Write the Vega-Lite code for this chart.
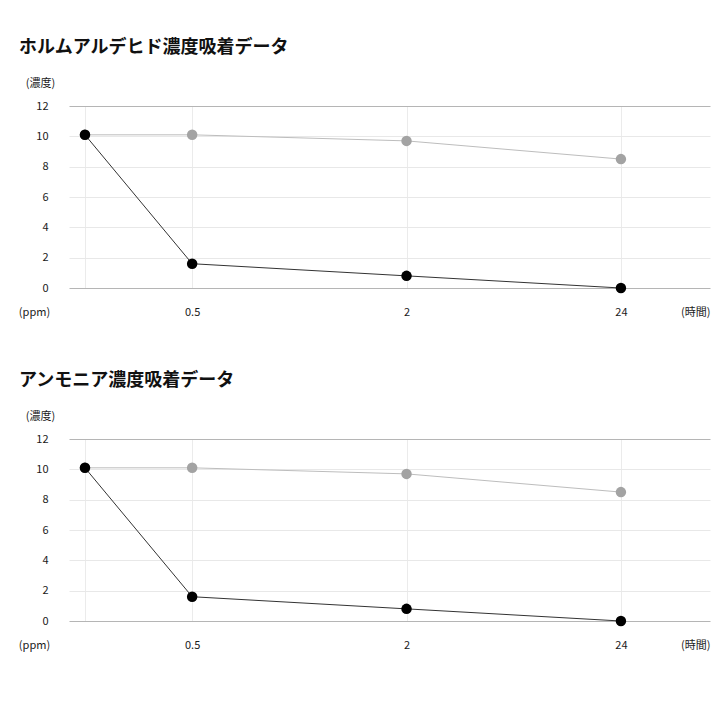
{
  "$schema": "https://vega.github.io/schema/vega-lite/v6.json",
  "padding": {"left": 18, "top": 39, "right": 5, "bottom": 5},
  "background": "white",
  "config": {
    "font": "Noto Sans CJK JP",
    "view": {"stroke": null},
    "title": {"fontSize": 18, "fontWeight": "bold", "color": "#111111", "anchor": "start", "frame": "group", "dx": -50, "offset": 20},
    "axis": {"labelFontSize": 11, "labelColor": "#1a1a1a", "titleFontSize": 11, "titleFontWeight": "normal", "titleColor": "#1a1a1a", "ticks": false, "domain": false}
  },
  "datasets": {
    "formaldehyde": [
      {"hour": "0", "series": "対照", "ppm": 10.1},
      {"hour": "0.5", "series": "対照", "ppm": 10.1},
      {"hour": "2", "series": "対照", "ppm": 9.7},
      {"hour": "24", "series": "対照", "ppm": 8.5},
      {"hour": "0", "series": "吸着", "ppm": 10.1},
      {"hour": "0.5", "series": "吸着", "ppm": 1.6},
      {"hour": "2", "series": "吸着", "ppm": 0.8},
      {"hour": "24", "series": "吸着", "ppm": 0}
    ],
    "ammonia": [
      {"hour": "0", "series": "対照", "ppm": 10.1},
      {"hour": "0.5", "series": "対照", "ppm": 10.1},
      {"hour": "2", "series": "対照", "ppm": 9.7},
      {"hour": "24", "series": "対照", "ppm": 8.5},
      {"hour": "0", "series": "吸着", "ppm": 10.1},
      {"hour": "0.5", "series": "吸着", "ppm": 1.6},
      {"hour": "2", "series": "吸着", "ppm": 0.8},
      {"hour": "24", "series": "吸着", "ppm": 0}
    ]
  },
  "spacing": 55,
  "vconcat": [
    {
      "title": "ホルムアルデヒド濃度吸着データ",
      "width": 641,
      "height": 182,
      "data": {"name": "formaldehyde"},
      "encoding": {
        "x": {"field": "hour", "type": "ordinal", "sort": null,
          "scale": {"type": "point", "domain": ["0", "0.5", "1", "2", "12", "24"], "padding": 0.49, "align": 0.152},
          "axis": {"values": ["0", "0.5", "2", "24"], "labelAngle": 0, "labelPadding": 18, "grid": true, "gridColor": "#ebebeb",
            "labelExpr": "datum.value === '0' ? '(ppm)' : datum.label",
            "labelOffset": {"condition": {"test": "datum.value === '0'", "value": -51}, "value": 0},
            "title": "(時間)", "titleX": 641, "titleY": 18, "titleAlign": "right", "titleBaseline": "top"}},
        "y": {"field": "ppm", "type": "quantitative",
          "scale": {"domain": [0, 12], "nice": false},
          "axis": {"values": [0, 2, 4, 6, 8, 10, 12], "labelPadding": 21,
            "gridColor": {"condition": {"test": "datum.value === 0 || datum.value === 12", "value": "#b5b5b5"}, "value": "#e8e8e8"},
            "title": "(濃度)", "titleAngle": 0, "titleX": -29, "titleY": -23, "titleAlign": "center", "titleBaseline": "middle"}}
      },
      "layer": [
        {"mark": {"type": "line", "strokeWidth": 1},
          "encoding": {"stroke": {"field": "series", "type": "nominal", "scale": {"domain": ["対照", "吸着"], "range": ["#bdbdbd", "#333333"]}, "legend": null}}},
        {"mark": {"type": "point", "filled": true, "opacity": 1, "size": 110},
          "encoding": {"fill": {"field": "series", "type": "nominal", "scale": {"domain": ["対照", "吸着"], "range": ["#a3a3a3", "#000000"]}, "legend": null},
            "order": {"field": "series", "sort": "descending"}}}
      ],
      "resolve": {"scale": {"fill": "independent", "stroke": "independent"}}
    },
    {
      "title": "アンモニア濃度吸着データ",
      "width": 641,
      "height": 182,
      "data": {"name": "ammonia"},
      "encoding": {
        "x": {"field": "hour", "type": "ordinal", "sort": null,
          "scale": {"type": "point", "domain": ["0", "0.5", "1", "2", "12", "24"], "padding": 0.49, "align": 0.152},
          "axis": {"values": ["0", "0.5", "2", "24"], "labelAngle": 0, "labelPadding": 18, "grid": true, "gridColor": "#ebebeb",
            "labelExpr": "datum.value === '0' ? '(ppm)' : datum.label",
            "labelOffset": {"condition": {"test": "datum.value === '0'", "value": -51}, "value": 0},
            "title": "(時間)", "titleX": 641, "titleY": 18, "titleAlign": "right", "titleBaseline": "top"}},
        "y": {"field": "ppm", "type": "quantitative",
          "scale": {"domain": [0, 12], "nice": false},
          "axis": {"values": [0, 2, 4, 6, 8, 10, 12], "labelPadding": 21,
            "gridColor": {"condition": {"test": "datum.value === 0 || datum.value === 12", "value": "#b5b5b5"}, "value": "#e8e8e8"},
            "title": "(濃度)", "titleAngle": 0, "titleX": -29, "titleY": -23, "titleAlign": "center", "titleBaseline": "middle"}}
      },
      "layer": [
        {"mark": {"type": "line", "strokeWidth": 1},
          "encoding": {"stroke": {"field": "series", "type": "nominal", "scale": {"domain": ["対照", "吸着"], "range": ["#bdbdbd", "#333333"]}, "legend": null}}},
        {"mark": {"type": "point", "filled": true, "opacity": 1, "size": 110},
          "encoding": {"fill": {"field": "series", "type": "nominal", "scale": {"domain": ["対照", "吸着"], "range": ["#a3a3a3", "#000000"]}, "legend": null},
            "order": {"field": "series", "sort": "descending"}}}
      ],
      "resolve": {"scale": {"fill": "independent", "stroke": "independent"}}
    }
  ]
}
